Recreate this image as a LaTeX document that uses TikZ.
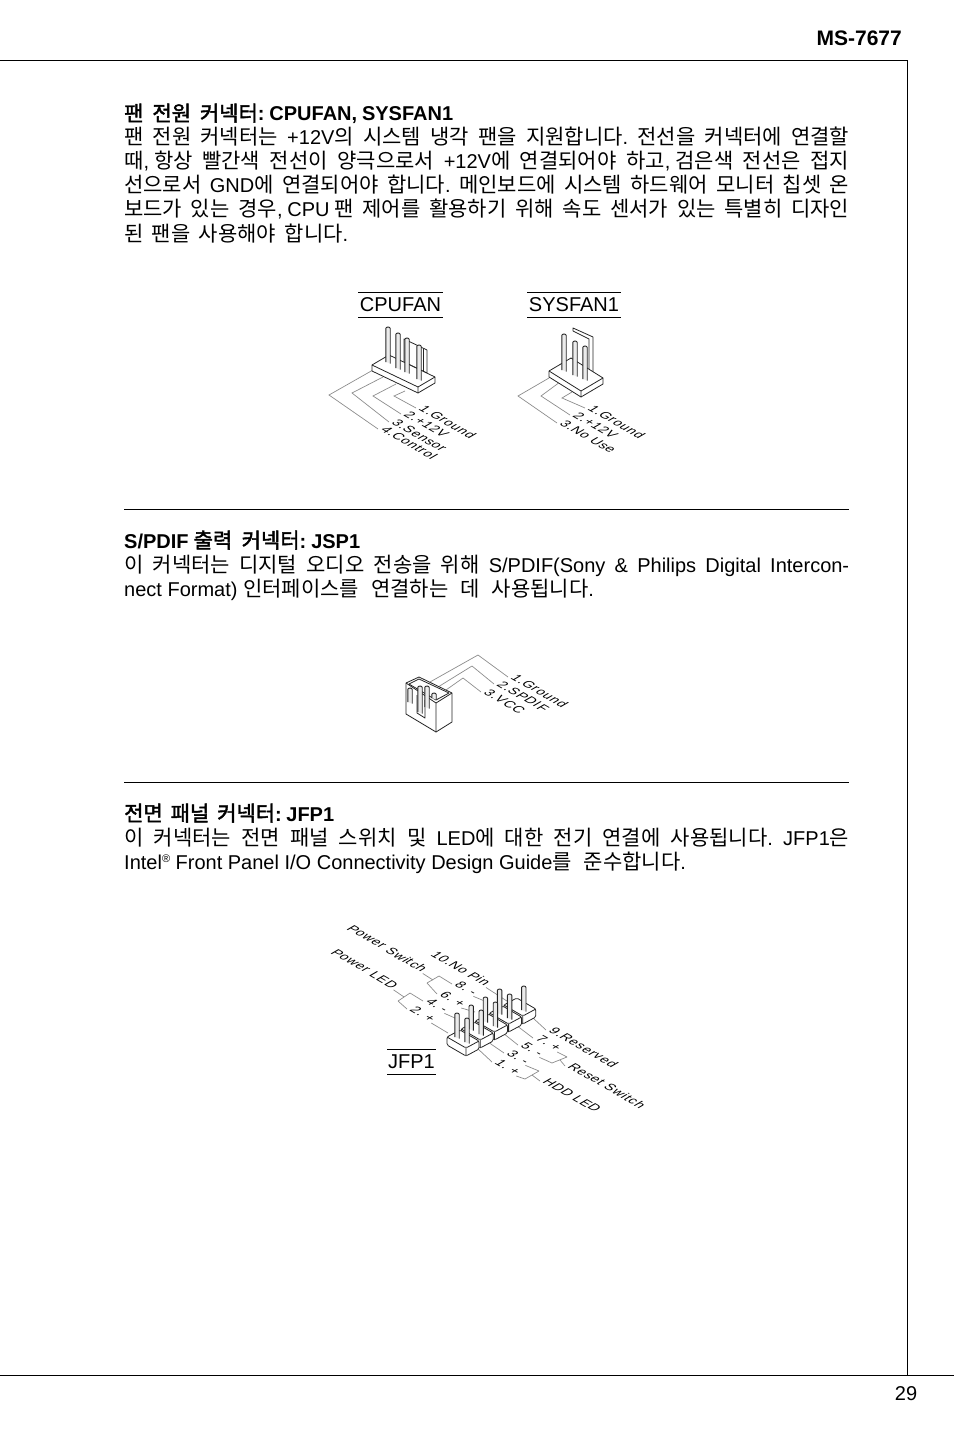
\documentclass[tikz,border=0pt]{standalone}
\usepackage{fontspec}
\setmainfont{Liberation Sans}
\newfontfamily\krfont[Scale=1.05,BoldFont={Noto Sans CJK KR},BoldFeatures={FakeBold=2}]{Noto Sans CJK KR}
\newfontfamily\labfont[LetterSpace=6]{Liberation Sans}
\frenchspacing
% korean runs switch font by themselves
\XeTeXinterchartokenstate=1
\count255="AC00
\loop\ifnum\count255<"D7A4 \XeTeXcharclass\count255=7 \advance\count255 by 1 \repeat
\newcommand{\kg}{\hskip 6.5pt minus 6.5pt\relax}
\XeTeXinterchartoks 0 7={\begingroup\krfont}
\XeTeXinterchartoks 4095 7={\begingroup\krfont}
\XeTeXinterchartoks 7 0={\endgroup}
\XeTeXinterchartoks 7 4095={\endgroup\kg}
\newcommand{\fl}[1]{\hbox to 725pt{#1\unskip}}
\newcommand{\pin}[3]{\draw[pinline] (#1-2.2,#3) -- (#1-2.2,#2+1.5) arc (180:0:2.2 and -1.5) -- (#1+2.2,#3+1.5);}
\newcommand{\isoplate}[7]{
  \draw[part] (#1,#2) -- (#1,#2+#7) -- (#1+#3,#2+#4+#7) -- (#1+#3+#5,#2+#4+#6+#7) -- (#1+#3+#5,#2+#4+#6) -- (#1+#5,#2+#6) -- cycle;
  \draw[part,fill=none] (#1,#2) -- (#1+#3,#2+#4) -- (#1+#3+#5,#2+#4+#6) (#1+#3,#2+#4) -- (#1+#3,#2+#4+#7);}
\tikzset{
  every node/.style={inner sep=0pt,font=\fontsize{20}{24}\selectfont},
  head/.style={anchor=base west,font=\fontsize{20}{24}\selectfont\bfseries},
  bodyline/.style={anchor=base west},
  namebox/.style={inner xsep=1.5pt,inner ysep=5pt},
  pinlabel/.style={anchor=base west,cm={0.866,-0.5,0.866,0.5,(0,0)},inner xsep=2pt,font=\fontsize{13}{13}\selectfont\labfont},
  wire/.style={draw=black!45,line width=0.7pt},
  part/.style={draw=black!85,fill=white,line width=0.8pt,line join=round},
  pinline/.style={draw=black!85,fill=black!8,line width=0.9pt},
  rule/.style={draw=black,line width=0.7pt}
}
\begin{document}
\begin{tikzpicture}[x=1pt,y=-1pt]
  \useasboundingbox (0,0) rectangle (954,1431);
  % page frame
  \coordinate (frameL) at (0,60);
  \coordinate (frameT) at (907,60);
  \coordinate (frameB) at (907,1375);
  \coordinate (footL) at (0,1375);
  \coordinate (footR) at (954,1375);
  \draw[rule] (frameL) -- (frameT) -- (frameB);
  \draw[rule] (footL) -- (footR);
  \node[anchor=base east,font=\fontsize{21}{24}\selectfont\bfseries] (model) at (902,46) {MS-7677};
  \node[anchor=base] (page) at (906,1400) {29};

  % fan section
  \node[head] (fanhead) at (124,121) {\hbox to 329pt{팬 전원 커넥터: CPUFAN, SYSFAN1}};
  \node[bodyline] (fan1) at (124,145) {\fl{팬 전원 커넥터는 +12V의 시스템 냉각 팬을 지원합니다. \kg 전선을 커넥터에 연결할}};
  \node[bodyline] (fan2) at (124,169) {\fl{때, 항상 빨간색 전선이 양극으로서 +12V에 연결되어야 하고, 검은색 전선은 접지}};
  \node[bodyline] (fan3) at (124,193) {\fl{선으로서 GND에 연결되어야 합니다. \kg 메인보드에 시스템 하드웨어 모니터 칩셋 온}};
  \node[bodyline] (fan4) at (124,217) {\fl{보드가 있는 경우, CPU 팬 제어를 활용하기 위해 속도 센서가 있는 특별히 디자인}};
  \node[bodyline] (fan5) at (124,241) {\hbox to 224pt{된 팬을 사용해야 합니다.}};

  \node[namebox] (cpufan) at (400.5,305) {CPUFAN};
  \node[namebox] (sysfan) at (574,305) {SYSFAN1};
  \foreach \n in {cpufan,sysfan} {
    \draw[rule] (\n.north west) -- (\n.north east);
    \draw[rule] (\n.south west) -- (\n.south east);
  }

  % cpufan header
  \foreach \num/\x/\y/\txt in {1/416/408/1.Ground,2/401/414/2.+12V,3/389/422/3.Sensor,4/378/429/4.Control}
    \node[pinlabel] (cpu\num) at (\x,\y) {\txt};
  \foreach \num/\sx/\sy/\kx/\ky in {1/405/391/394/396,2/396/384/373/396,3/383/377/352/393,4/373/370/329/395} {
    \coordinate (cpuS\num) at (\sx,\sy);
    \coordinate (cpuK\num) at (\kx,\ky);
    \draw[wire] (cpuS\num) -- (cpuK\num) -- (cpu\num.base west);
  }
  \draw[part] (404,339) -- (427,350) -- (427,373) -- (404,362) -- cycle;
  \draw[part] (423,349) -- (423,372);
  \isoplate{372}{365}{46}{22}{17}{-10}{6}
  \pin{388}{327}{362}
  \pin{398}{333}{368}
  \pin{407}{338}{372}
  \pin{419}{345}{379}

  % sysfan header
  \foreach \num/\x/\y/\txt in {1/585/408/1.Ground,2/570/415/2.+12V,3/557/423/3.No Use}
    \node[pinlabel] (sys\num) at (\x,\y) {\txt};
  \foreach \num/\sx/\sy/\kx/\ky in {1/572/392/562/398,2/560/382/541/396,3/549/378/518/396} {
    \coordinate (sysS\num) at (\sx,\sy);
    \coordinate (sysK\num) at (\kx,\ky);
    \draw[wire] (sysS\num) -- (sysK\num) -- (sys\num.base west);
  }
  \draw[part] (573,328) -- (593,337) -- (593,376) -- (589,374) -- (589,339) -- (573,331) -- cycle;
  \isoplate{549}{371}{32}{20}{22}{-13}{6}
  \pin{564}{334}{370}
  \pin{575}{341}{375}
  \pin{585}{346}{379}

  \coordinate (ruleAL) at (124,509);
  \coordinate (ruleAR) at (849,509);
  \draw[rule] (ruleAL) -- (ruleAR);

  % spdif section
  \node[head] (jsphead) at (124,548) {\hbox to 236pt{S/PDIF 출력 커넥터: JSP1}};
  \node[bodyline] (jsp1) at (124,572) {\fl{이 커넥터는 디지털 오디오 전송을 위해 S/PDIF(Sony \kg \& \kg Philips \kg Digital \kg Intercon-}};
  \node[bodyline] (jsp2) at (124,596) {nect Format) 인터페이스를 연결하는 데 사용됩니다.};

  \foreach \num/\x/\y/\txt in {1/508/677/1.Ground,2/494/684/2.SPDIF,3/481/692/3.VCC}
    \node[pinlabel] (spd\num) at (\x,\y) {\txt};
  \foreach \num/\sx/\sy/\kx/\ky in {1/430/682/478/655,2/438/687/472/666,3/446/690/463/678} {
    \coordinate (spdS\num) at (\sx,\sy);
    \coordinate (spdK\num) at (\kx,\ky);
    \draw[wire] (spdS\num) -- (spdK\num) -- (spd\num.base west);
  }
  \draw[part] (406,683) -- (419,677) -- (452,693) -- (452,722) -- (436,732) -- (406,714) -- cycle;
  \draw[part,fill=none] (406,683) -- (436,703) -- (452,693) (436,703) -- (436,732);
  \draw[part,fill=none] (409,684) -- (419,679) -- (449,693) -- (436,700) -- cycle;
  \draw[part,fill=none] (417,695) -- (417,713) -- (425,718) -- (425,700);
  \pin{410}{688}{702}
  \pin{420}{686}{712}
  \pin{427}{686}{707}
  \pin{434}{693}{698}

  \coordinate (ruleBL) at (124,782);
  \coordinate (ruleBR) at (849,782);
  \draw[rule] (ruleBL) -- (ruleBR);

  % front panel section
  \node[head] (jfphead) at (124,821) {\hbox to 210pt{전면 패널 커넥터: JFP1}};
  \node[bodyline] (jfp1) at (124,845) {\fl{이 커넥터는 전면 패널 스위치 및 LED에 대한 전기 연결에 사용됩니다. \kg JFP1은}};
  \node[bodyline] (jfp2) at (124,869) {Intel\raisebox{7pt}{\fontsize{11}{11}\selectfont ®} Front Panel I/O Connectivity Design Guide를 준수합니다.};

  \node[namebox,inner xsep=0.5pt] (jfp) at (411.5,1062) {JFP1};
  \draw[rule] (jfp.north west) -- (jfp.north east);
  \draw[rule] (jfp.south west) -- (jfp.south east);

  \foreach \num/\x/\y/\txt in {ten/428/954/10.No Pin,eight/452/984/8. -,six/437/994/6. +,four/423/1001/4. -,two/407/1009/2. +,
    nine/546/1030/9.Reserved,seven/533/1038/7. +,five/518/1045/5. -,three/504/1053/3. -,one/492/1062/1. +,
    pwsw/344/928/Power Switch,pwled/328/952/Power LED,rst/565/1066/Reset Switch,hdd/540/1081/HDD LED}
    \node[pinlabel] (l\num) at (\x,\y) {\txt};

  % left side wires
  \foreach \kx/\ky/\lab in {439/976/eight,427/983/six,410/993/four,398/1001/two} {
    \coordinate (k\lab) at (\kx,\ky);
    \draw[wire] (k\lab) -- (l\lab.base west);
  }
  \draw[wire] (keight) -- (ksix);
  \draw[wire] (kfour) -- (ktwo);
  \coordinate (kpwsw) at (433,980);
  \coordinate (kpwled) at (404,997);
  \draw[wire] (lpwsw.base east) -- (kpwsw);
  \draw[wire] (lpwled.base east) -- (kpwled);
  \foreach \lab/\px/\py in {ten/510/1003,eight/487/1002,six/475/1012,four/455/1018,two/448/1033} {
    \coordinate (p\lab) at (\px,\py);
    \draw[wire] (l\lab.base east) -- (p\lab);
  }
  % right side wires
  \foreach \px/\py/\lab in {533/1018/nine,512/1022/seven,503/1033/five,488/1042/three,477/1048/one} {
    \coordinate (p\lab) at (\px,\py);
    \draw[wire] (p\lab) -- (l\lab.base west);
  }
  \foreach \kx/\ky/\lab in {567/1057/seven,552/1063/five,539/1071/three,525/1079/one} {
    \coordinate (k\lab) at (\kx,\ky);
    \draw[wire] (l\lab.base east) -- (k\lab);
  }
  \draw[wire] (kseven) -- (kfive);
  \draw[wire] (kthree) -- (kone);
  \coordinate (krst) at (560,1060);
  \coordinate (khdd) at (532,1075);
  \draw[wire] (krst) -- (lrst.base west);
  \draw[wire] (khdd) -- (lhdd.base west);

  % jfp1 blocks, back to front
  \foreach \i in {4,3,2,1,0} {
    \begin{scope}[shift={(14.2*\i,-8*\i)},part/.append style={rounded corners=1.5pt}]
      \isoplate{447}{1037}{19}{11}{13}{-7}{8}
      \ifnum\i<4 \pin{457}{1013}{1037} \fi
      \pin{467}{1018}{1042}
    \end{scope}
  }
\end{tikzpicture}
\end{document}
